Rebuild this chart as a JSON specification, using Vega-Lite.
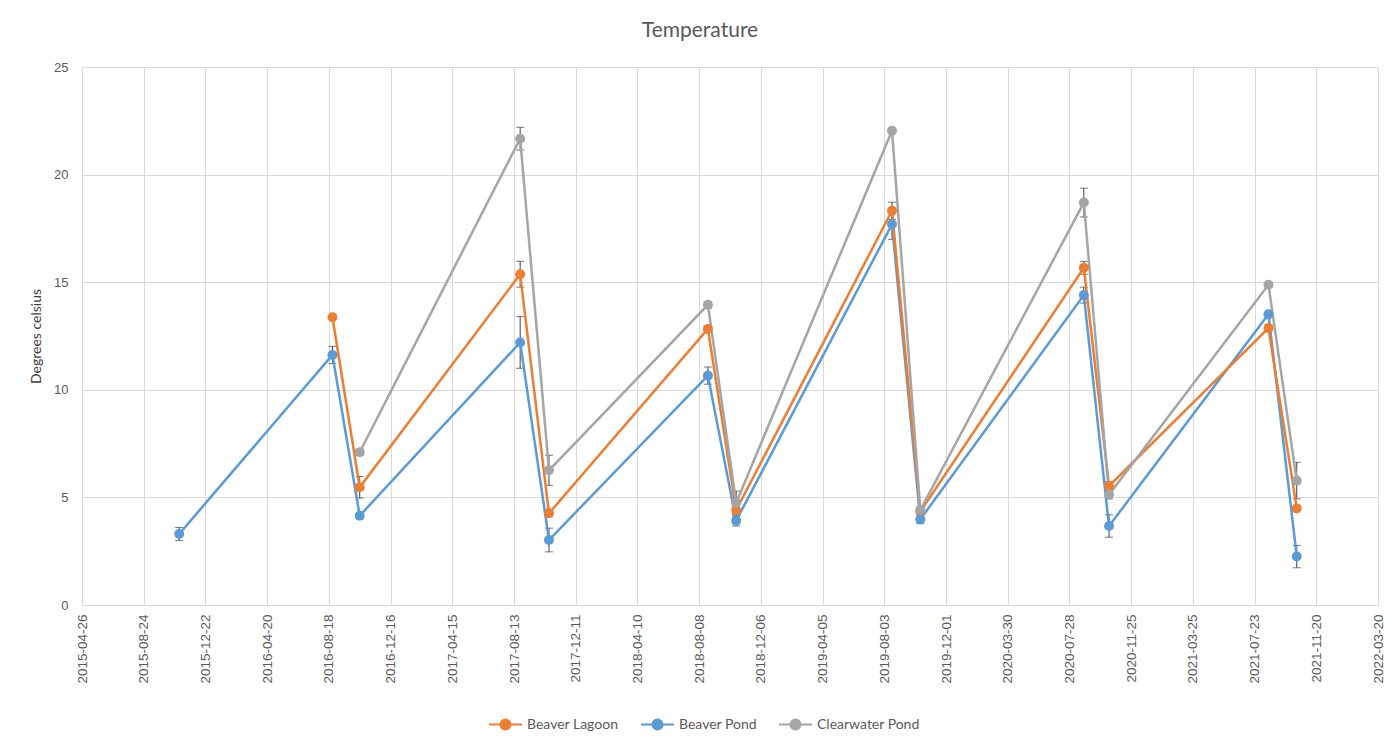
{
  "$schema": "https://vega.github.io/schema/vega-lite/v6.json",
  "width": 1296,
  "height": 538,
  "autosize": "none",
  "padding": {"left": 82, "top": 67, "right": 20, "bottom": 139},
  "background": "white",
  "title": {"text": "Temperature", "font": "Lato", "fontSize": 21, "fontWeight": "normal", "color": "#595959", "offset": 20, "dx": -30},
  "data": {"values": [
    {"series": "Beaver Pond", "date": "2015-11-01", "value": 3.3, "err": 0.3},
    {"series": "Beaver Lagoon", "date": "2016-08-25", "value": 13.37, "err": 0},
    {"series": "Beaver Pond", "date": "2016-08-25", "value": 11.62, "err": 0.4},
    {"series": "Beaver Lagoon", "date": "2016-10-17", "value": 5.47, "err": 0.5},
    {"series": "Beaver Pond", "date": "2016-10-17", "value": 4.15, "err": 0},
    {"series": "Clearwater Pond", "date": "2016-10-17", "value": 7.1, "err": 0.15},
    {"series": "Beaver Lagoon", "date": "2017-08-25", "value": 15.37, "err": 0.6},
    {"series": "Beaver Pond", "date": "2017-08-25", "value": 12.2, "err": 1.2},
    {"series": "Clearwater Pond", "date": "2017-08-25", "value": 21.67, "err": 0.53},
    {"series": "Beaver Lagoon", "date": "2017-10-20", "value": 4.26, "err": 0.15},
    {"series": "Beaver Pond", "date": "2017-10-20", "value": 3.02, "err": 0.55},
    {"series": "Clearwater Pond", "date": "2017-10-20", "value": 6.26, "err": 0.7},
    {"series": "Beaver Lagoon", "date": "2018-08-25", "value": 12.83, "err": 0.1},
    {"series": "Beaver Pond", "date": "2018-08-25", "value": 10.66, "err": 0.4},
    {"series": "Clearwater Pond", "date": "2018-08-25", "value": 13.95, "err": 0.15},
    {"series": "Beaver Lagoon", "date": "2018-10-19", "value": 4.41, "err": 0.3},
    {"series": "Beaver Pond", "date": "2018-10-19", "value": 3.92, "err": 0.25},
    {"series": "Clearwater Pond", "date": "2018-10-19", "value": 4.75, "err": 0.54},
    {"series": "Beaver Lagoon", "date": "2019-08-18", "value": 18.32, "err": 0.4},
    {"series": "Beaver Pond", "date": "2019-08-18", "value": 17.69, "err": 0.7},
    {"series": "Clearwater Pond", "date": "2019-08-18", "value": 22.04, "err": 0},
    {"series": "Beaver Lagoon", "date": "2019-10-12", "value": 4.34, "err": 0.1},
    {"series": "Beaver Pond", "date": "2019-10-12", "value": 3.98, "err": 0.2},
    {"series": "Clearwater Pond", "date": "2019-10-12", "value": 4.41, "err": 0.15},
    {"series": "Beaver Lagoon", "date": "2020-08-25", "value": 15.67, "err": 0.3},
    {"series": "Beaver Pond", "date": "2020-08-25", "value": 14.4, "err": 0.37},
    {"series": "Clearwater Pond", "date": "2020-08-25", "value": 18.7, "err": 0.67},
    {"series": "Beaver Lagoon", "date": "2020-10-13", "value": 5.53, "err": 0.2},
    {"series": "Beaver Pond", "date": "2020-10-13", "value": 3.67, "err": 0.52},
    {"series": "Clearwater Pond", "date": "2020-10-13", "value": 5.13, "err": 0.2},
    {"series": "Beaver Lagoon", "date": "2021-08-19", "value": 12.87, "err": 0.15},
    {"series": "Beaver Pond", "date": "2021-08-19", "value": 13.51, "err": 0},
    {"series": "Clearwater Pond", "date": "2021-08-19", "value": 14.88, "err": 0.1},
    {"series": "Beaver Lagoon", "date": "2021-10-13", "value": 4.49, "err": 0.1},
    {"series": "Beaver Pond", "date": "2021-10-13", "value": 2.25, "err": 0.52},
    {"series": "Clearwater Pond", "date": "2021-10-13", "value": 5.78, "err": 0.85}
  ]},
  "encoding": {
    "x": {"field": "date", "type": "temporal", "title": null,
          "scale": {"type": "utc", "nice": false, "domain": [{"year": 2015, "month": 4, "date": 26, "utc": true}, {"year": 2022, "month": 3, "date": 20, "utc": true}]},
          "axis": {"format": "%Y-%m-%d", "labelAngle": -90, "labelPadding": 9, "ticks": false, "grid": true, "labelFontSize": 13.5,
                   "values": [
                     {"year": 2015, "month": 4, "date": 26, "utc": true},
                     {"year": 2015, "month": 8, "date": 24, "utc": true},
                     {"year": 2015, "month": 12, "date": 22, "utc": true},
                     {"year": 2016, "month": 4, "date": 20, "utc": true},
                     {"year": 2016, "month": 8, "date": 18, "utc": true},
                     {"year": 2016, "month": 12, "date": 16, "utc": true},
                     {"year": 2017, "month": 4, "date": 15, "utc": true},
                     {"year": 2017, "month": 8, "date": 13, "utc": true},
                     {"year": 2017, "month": 12, "date": 11, "utc": true},
                     {"year": 2018, "month": 4, "date": 10, "utc": true},
                     {"year": 2018, "month": 8, "date": 8, "utc": true},
                     {"year": 2018, "month": 12, "date": 6, "utc": true},
                     {"year": 2019, "month": 4, "date": 5, "utc": true},
                     {"year": 2019, "month": 8, "date": 3, "utc": true},
                     {"year": 2019, "month": 12, "date": 1, "utc": true},
                     {"year": 2020, "month": 3, "date": 30, "utc": true},
                     {"year": 2020, "month": 7, "date": 28, "utc": true},
                     {"year": 2020, "month": 11, "date": 25, "utc": true},
                     {"year": 2021, "month": 3, "date": 25, "utc": true},
                     {"year": 2021, "month": 7, "date": 23, "utc": true},
                     {"year": 2021, "month": 11, "date": 20, "utc": true},
                     {"year": 2022, "month": 3, "date": 20, "utc": true}
                   ]}},
    "y": {"field": "value", "type": "quantitative", "title": "Degrees celsius",
          "scale": {"domain": [0, 25], "nice": false, "zero": true},
          "axis": {"values": [0, 5, 10, 15, 20, 25], "domain": false, "ticks": false, "labelPadding": 14, "titlePadding": 10}}
  },
  "layer": [
    {
      "transform": [{"filter": "datum.err > 0"}],
      "mark": {"type": "errorbar", "color": "#404040", "thickness": 1, "ticks": {"size": 8, "thickness": 1, "color": "#404040"}},
      "encoding": {
        "yError": {"field": "err"}
      }
    },
    {
      "mark": {"type": "line", "strokeWidth": 2.5, "point": {"filled": true, "size": 100, "opacity": 1}},
      "encoding": {
        "color": {"field": "series", "type": "nominal",
                  "scale": {"domain": ["Beaver Lagoon", "Beaver Pond", "Clearwater Pond"], "range": ["#ED7D31", "#5B9BD5", "#A5A5A5"]},
                  "legend": {"title": null, "orient": "none", "direction": "horizontal", "legendX": 406, "legendY": 640,
                             "gridAlign": "none",
                             "symbolType": "M-1,0H1M0.3,0A0.3,0.3,0,1,1,-0.3,0A0.3,0.3,0,1,1,0.3,0Z",
                             "symbolSize": 1089, "symbolStrokeWidth": 2, "columnPadding": 18, "labelOffset": 4,
                             "encode": {"symbols": {"update": {"fill": {"scale": "color", "field": "value"}}}}}}
      }
    }
  ],
  "config": {
    "view": {"stroke": null},
    "axis": {"gridColor": "#d9d9d9", "gridWidth": 1, "domainColor": "#d9d9d9", "labelColor": "#595959", "labelFont": "Liberation Sans", "labelFontSize": 12, "titleColor": "#404040", "titleFont": "Lato", "titleFontSize": 14, "titleFontWeight": "normal"},
    "axisY": {"labelFontSize": 13},
    "legend": {"labelFont": "Lato", "labelFontSize": 14, "labelColor": "#595959"}
  }
}
